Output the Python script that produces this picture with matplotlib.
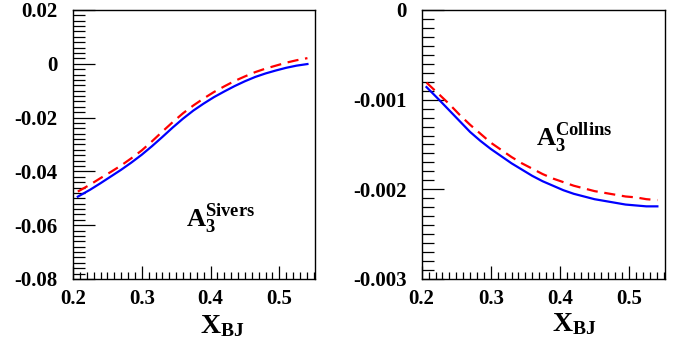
import matplotlib
matplotlib.use('Agg')
import matplotlib.pyplot as plt
from matplotlib.ticker import AutoMinorLocator
import numpy as np

plt.rcParams['font.family'] = ['Liberation Serif', 'DejaVu Serif']
plt.rcParams['font.weight'] = 'bold'
plt.rcParams['axes.unicode_minus'] = False
plt.rcParams['mathtext.fontset'] = 'custom'
plt.rcParams['mathtext.rm'] = 'Liberation Serif:bold'
plt.rcParams['mathtext.it'] = 'Liberation Serif:bold'
plt.rcParams['mathtext.bf'] = 'Liberation Serif:bold'
plt.rcParams['mathtext.default'] = 'rm'

# data
x_bj = [0.207, 0.225, 0.24, 0.255, 0.27, 0.285, 0.30, 0.315, 0.33, 0.345,
        0.36, 0.375, 0.39, 0.405, 0.42, 0.435, 0.45, 0.465, 0.48, 0.495,
        0.51, 0.525, 0.541]

sivers_blue = [-0.0494, -0.0468, -0.0444, -0.0419, -0.0394, -0.0367, -0.0338,
               -0.0306, -0.0272, -0.0237, -0.0204, -0.0174, -0.0148, -0.0124,
               -0.0103, -0.0083, -0.0065, -0.0049, -0.0036, -0.0025,
               -0.0015, -0.0007, -0.0001]
sivers_red = [-0.0475, -0.0449, -0.0425, -0.0402, -0.0378, -0.0351, -0.0322,
              -0.0288, -0.0252, -0.0217, -0.0184, -0.0155, -0.0129, -0.0105,
              -0.0084, -0.0064, -0.0047, -0.0031, -0.0018, -0.0007,
              0.0004, 0.0013, 0.0021]

collins_blue = [-0.00086, -0.00100, -0.00112, -0.00124, -0.00136, -0.00146,
                -0.00155, -0.00163, -0.00171, -0.00178, -0.00185, -0.00191,
                -0.00196, -0.00201, -0.00205, -0.00208, -0.00211, -0.00213,
                -0.00215, -0.00217, -0.00218, -0.00219, -0.00219]
collins_red = [-0.00081, -0.00094, -0.00105, -0.00117, -0.00128, -0.00138,
               -0.00148, -0.00156, -0.00164, -0.00171, -0.00177, -0.00183,
               -0.00188, -0.00192, -0.00196, -0.00199, -0.00202, -0.00204,
               -0.00206, -0.00208, -0.00209, -0.00211, -0.00212]

xticks = [0.2, 0.3, 0.4, 0.5]
xticklabels = ['0.2', '0.3', '0.4', '0.5']
sivers_yticks = [0.02, 0.0, -0.02, -0.04, -0.06, -0.08]
sivers_yticklabels = ['0.02', '0', '-0.02', '-0.04', '-0.06', '-0.08']
collins_yticks = [0.0, -0.001, -0.002, -0.003]
collins_yticklabels = ['0', '-0.001', '-0.002', '-0.003']


def style_axis(ax, yticks, yticklabels, ylim):
    ax.set_xlim(0.2, 0.552)
    ax.set_ylim(*ylim)
    ax.set_xticks(xticks)
    ax.set_xticklabels(xticklabels)
    ax.set_yticks(yticks)
    ax.set_yticklabels(yticklabels)
    ax.xaxis.set_minor_locator(AutoMinorLocator(10))
    ax.yaxis.set_minor_locator(AutoMinorLocator(10))
    ax.tick_params(axis='both', which='both', direction='in',
                   top=False, right=False, labelsize=15, width=0.9)
    ax.tick_params(axis='x', which='major', length=9.5, pad=7)
    ax.tick_params(axis='x', which='minor', length=5)
    ax.tick_params(axis='y', which='major', length=15.8, pad=11)
    ax.tick_params(axis='y', which='minor', length=8.6)
    for s in ax.spines.values():
        s.set_linewidth(1.0)


fig = plt.figure(figsize=(6.83, 3.5), dpi=100)

ax1 = fig.add_axes([0.1069, 0.2029, 0.3543, 0.7686])
ax1.plot(x_bj, sivers_blue, color='#0000ff', lw=1.6)
ax1.plot(x_bj, sivers_red, color='#ff0000', lw=1.6, ls=(0, (5, 3)))
style_axis(ax1, sivers_yticks, sivers_yticklabels, (-0.08, 0.02))
ax1.text(0.365, -0.0607, r'$A_3^{Sivers}$', fontsize=19)

ax2 = fig.add_axes([0.6174, 0.2029, 0.3562, 0.7686])
ax2.plot(x_bj, collins_blue, color='#0000ff', lw=1.6)
ax2.plot(x_bj, collins_red, color='#ff0000', lw=1.6, ls=(0, (5, 3)))
style_axis(ax2, collins_yticks, collins_yticklabels, (-0.003, 0.0))
ax2.text(0.366, -0.00151, r'$A_3^{Collins}$', fontsize=19)

fig.text(200 / 683, 1 - 333 / 350, r'$X_{BJ}$', fontsize=20)
fig.text(552 / 683, 1 - 331 / 350, r'$X_{BJ}$', fontsize=20)

fig.savefig('out.png', dpi=100)
